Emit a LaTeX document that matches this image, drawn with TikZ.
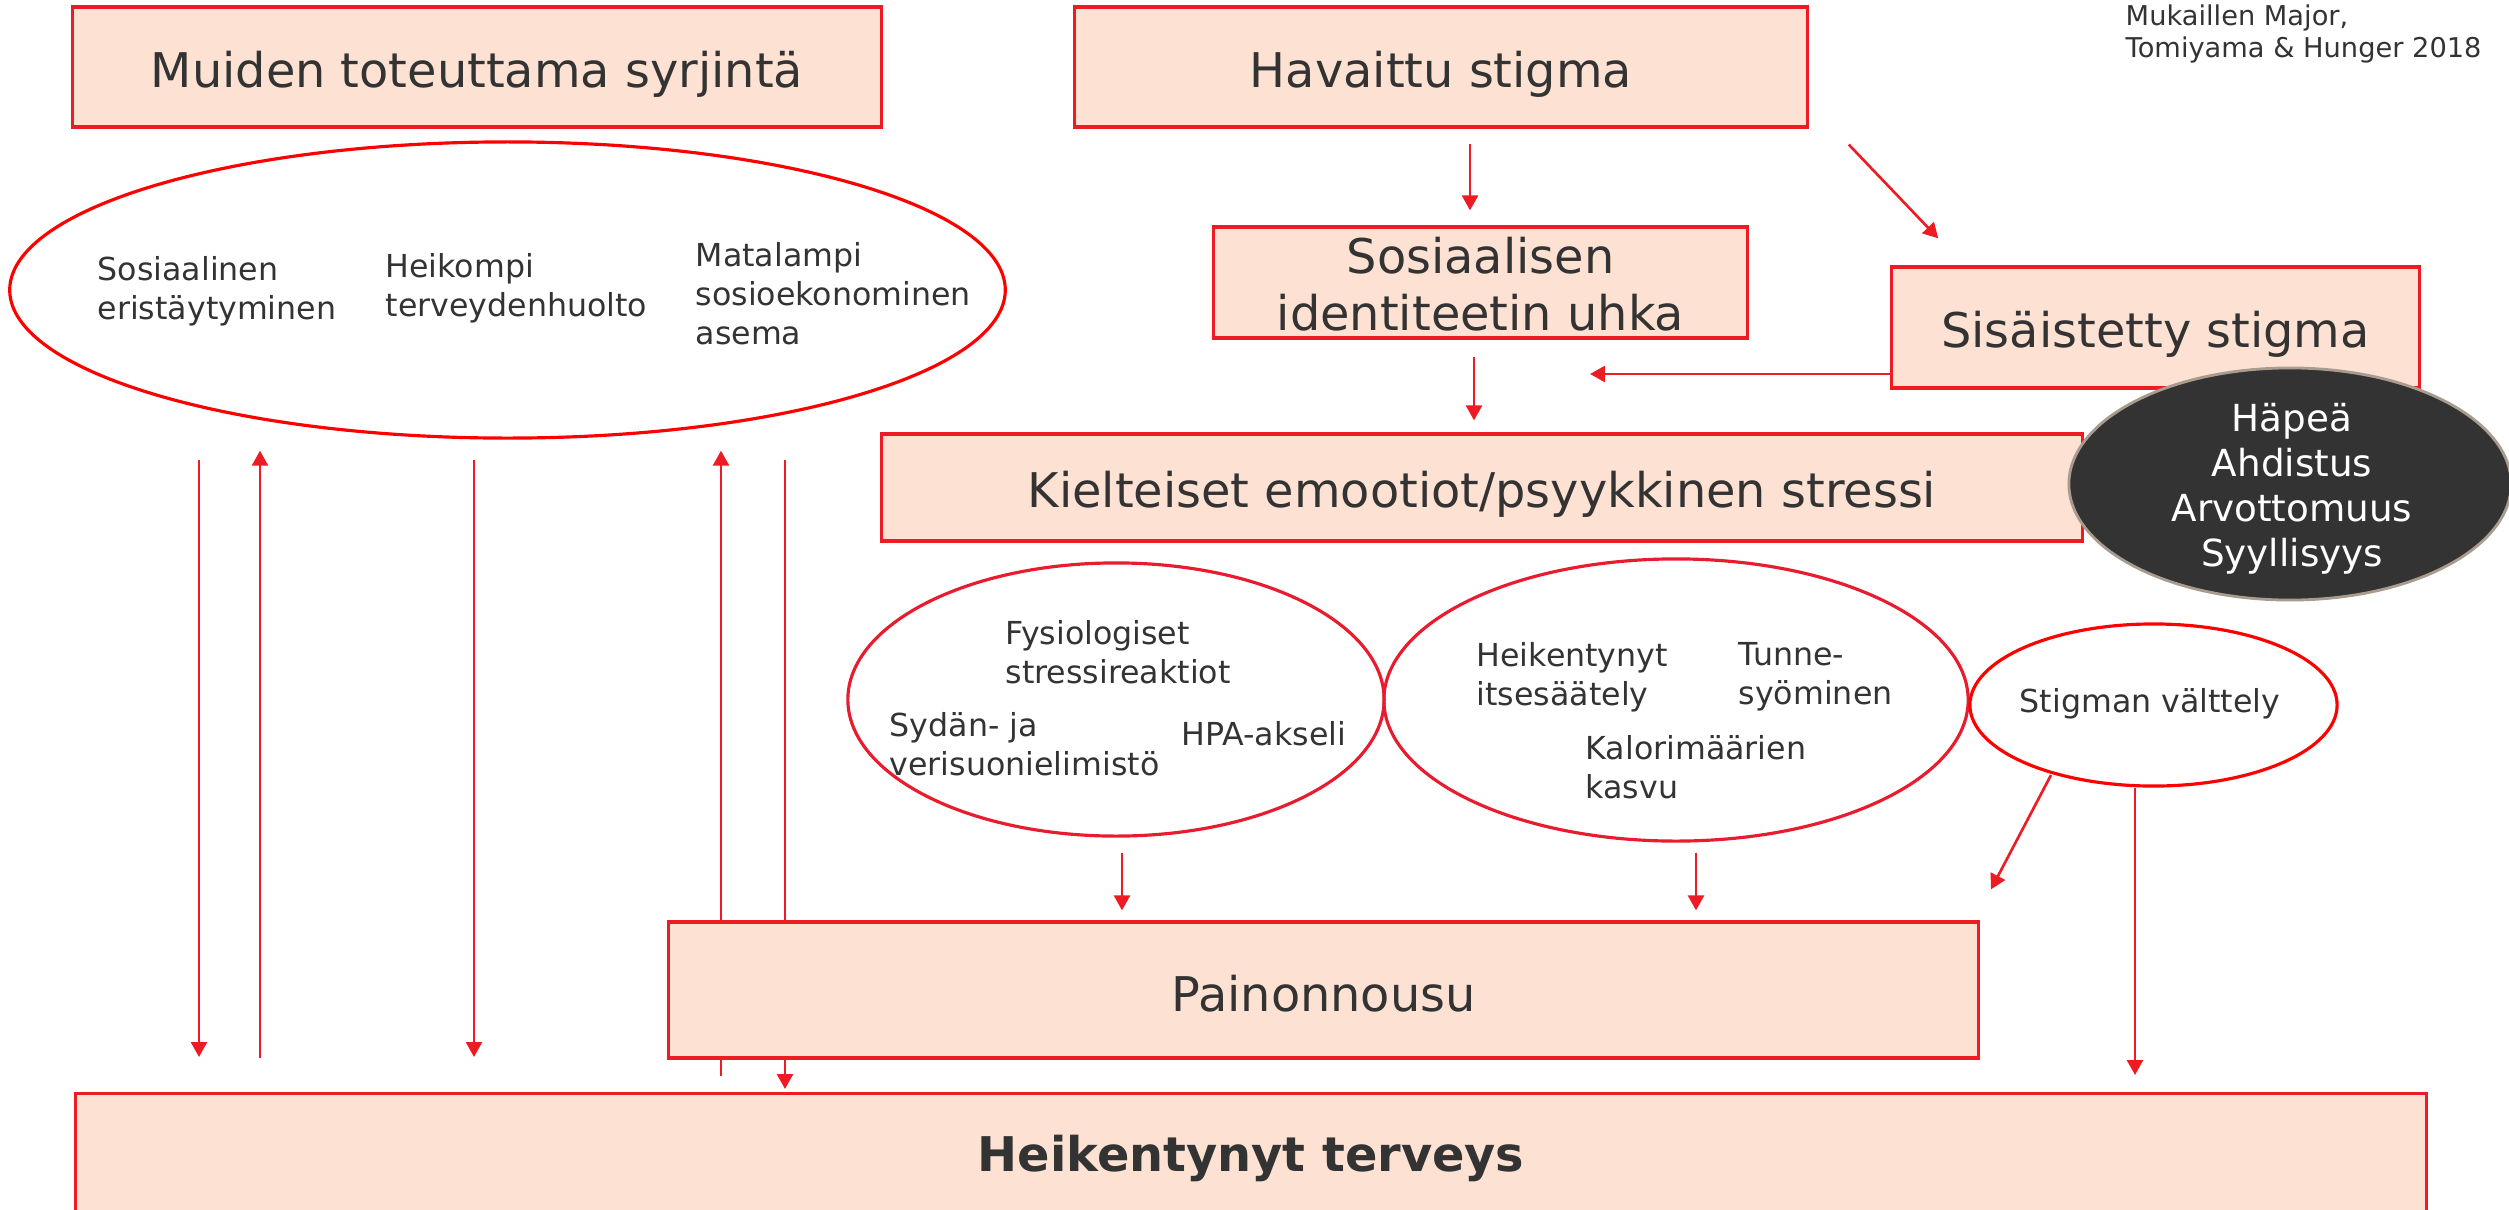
\documentclass[tikz,border=0pt]{standalone}
\usepackage{fontspec}
\setmainfont{DejaVu Sans}
\usetikzlibrary{shapes.geometric,arrows.meta,calc}
\pgfdeclarelayer{bg}
\pgfsetlayers{bg,main}
\definecolor{boxfill}{HTML}{FDE2D3}
\definecolor{boxred}{HTML}{ED1C24}
\definecolor{ellred}{HTML}{FF0000}
\definecolor{ellredb}{HTML}{E81C2E}
\definecolor{txt}{HTML}{333333}
\definecolor{darkfill}{HTML}{333333}
\definecolor{darkedge}{HTML}{A99C8F}
\newcommand{\lowerby}[2][0.07cm]{\raisebox{-#1}[\height][\depth]{#2}}
\begin{document}
\begin{tikzpicture}[x=0.01cm,y=-0.01cm,
  box/.style={draw=boxred, fill=boxfill, line width=0.9pt, inner sep=0pt, text=txt,
    font={\fontsize{13.6}{16.2}\selectfont}, align=center},
  ell/.style={ellipse, draw=ellred, line width=0.9pt, inner sep=0pt},
  small/.style={text=txt, font={\fontsize{9}{11.1}\selectfont}, align=left, anchor=west, inner sep=0pt},
  arr/.style={draw=boxred, line width=0.75pt, -{Triangle[length=0.15cm,width=0.16cm]}},
]
\useasboundingbox (0,0) rectangle (2509,1209);
\clip (0,0) rectangle (2509,1209);

% boxes
\node[box, minimum width=8.08cm, minimum height=1.20cm] (muiden) at (477,67) {\lowerby{Muiden toteuttama syrjintä}};
\node[box, minimum width=7.32cm, minimum height=1.20cm] (havaittu) at (1441,67) {\lowerby{Havaittu stigma}};
\node[box, minimum width=5.33cm, minimum height=1.11cm] (sosid) at (1480.5,282.5) {\lowerby[0.02cm]{Sosiaalisen}\\\lowerby[0.02cm]{identiteetin uhka}};
\node[box, minimum width=5.27cm, minimum height=1.21cm] (sisais) at (2155.5,327.5) {\lowerby{Sisäistetty stigma}};
\node[box, minimum width=12.00cm, minimum height=1.07cm] (kielt) at (1482,487.5) {\lowerby{Kielteiset emootiot/psyykkinen stressi}};
\node[ellipse, fill=darkfill, draw=darkedge, line width=0.8pt, inner sep=0pt,
  minimum width=4.42cm, minimum height=2.32cm] (tunteet) at (2290,484) {};
\node[text=white, font={\fontsize{10.6}{12.8}\selectfont}, align=center, inner sep=0pt] (tunteettxt) at (2292,489) {Häpeä\\Ahdistus\\Arvottomuus\\Syyllisyys};

\node[text=txt, font={\fontsize{7.75}{9}\selectfont}, align=left, anchor=west, inner sep=0pt] (lahde) at (2125,34) {Mukaillen Major,\\Tomiyama \& Hunger 2018};

% ellipses
\node[ell, minimum width=9.95cm, minimum height=2.96cm] (bigell) at (507.5,290) {};
\node[small] (t1) at (97,291) {Sosiaalinen\\eristäytyminen};
\node[small] (t2) at (385,288.5) {Heikompi\\terveydenhuolto};
\node[small] (t3) at (695,294) {Matalampi\\sosioekonominen\\asema};

\node[ell, draw=ellredb, minimum width=5.36cm, minimum height=2.73cm] (fysio) at (1116,699.5) {};
\node[small] (t4) at (1005,652) {Fysiologiset\\stressireaktiot};
\node[small] (t5) at (889,744) {Sydän- ja\\verisuonielimistö};
\node[small] (t6) at (1181,734) {HPA-akseli};

\node[ell, draw=ellredb, minimum width=5.84cm, minimum height=2.82cm] (syom) at (1676,700) {};
\node[small] (t7) at (1476,677) {Heikentynyt\\itsesäätely};
\node[small] (t8) at (1738,677) {Tunne-\\syöminen};
\node[small] (t9) at (1585,767) {Kalorimäärien\\kasvu};

\node[ell, minimum width=3.67cm, minimum height=1.62cm] (valt) at (2153.5,705) {};
\node[text=txt, font={\fontsize{9}{11.1}\selectfont}, inner sep=0pt] (t10) at (2150,704) {Stigman välttely};

\node[box, minimum width=13.09cm, minimum height=1.36cm] (painon) at (1323.5,990) {\lowerby[0.04cm]{Painonnousu}};
\node[box, anchor=north, minimum width=23.50cm, minimum height=2.3cm] (heik) at (1251,1092) {};
\node[text=txt, font={\fontsize{13.6}{16}\selectfont\bfseries}, inner sep=0pt] (heiktxt) at (1251,1158) {Heikentynyt terveys};

\begin{pgfonlayer}{bg}
\draw[arr] ($(havaittu.south)+(29,15)$) -- ($(sosid.north)+(-10.5,-15)$);
\draw[arr] ($(havaittu.south east)+(40,16)$) -- ($(sisais.north west)+(48,-27)$);
\draw[arr] ($(sosid.south)+(-6.5,17)$) -- ($(kielt.north)+(-8,-12)$);
\coordinate (c4) at (1590,374);
\draw[arr] ($(sisais.west)+(0,46.5)$) -- (c4);

\draw[arr] ($(bigell.south)+(-308.5,20)$) -- ($(heik.north)+(-1052,-35)$);
\draw[arr] ($(heik.north)+(-991,-34)$) -- ($(bigell.south)+(-247.5,11)$);
\draw[arr] ($(bigell.south)+(-33.5,20)$) -- ($(heik.north)+(-777,-35)$);
\draw[arr] ($(heik.north)+(-530,-16)$) -- ($(bigell.south)+(213.5,11)$);
\draw[arr] ($(bigell.south)+(277.5,20)$) -- ($(heik.north)+(-466,-3)$);

\draw[arr] ($(fysio.south)+(6,15)$) -- ($(painon.north)+(-201.5,-10)$);
\draw[arr] ($(syom.south)+(20,10)$) -- ($(painon.north)+(372.5,-10)$);
\draw[arr] ($(valt.center)+(-102.5,70)$) -- ($(painon.north east)+(11,-31)$);
\draw[arr] ($(valt.south)+(-18.5,0)$) -- ($(heik.north)+(884,-17)$);
\end{pgfonlayer}
\end{tikzpicture}
\end{document}
